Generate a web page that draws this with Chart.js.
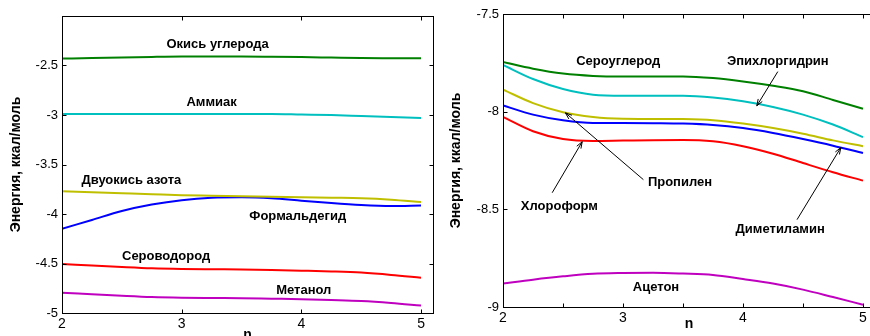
<!DOCTYPE html>
<html>
<head>
<meta charset="utf-8">
<script src="https://cdn.jsdelivr.net/npm/chart.js@4.4.0/dist/chart.umd.min.js"></script>
<style>
    html, body { margin: 0; padding: 0; background: #fff; width: 870px; height: 336px; overflow: hidden; }
    canvas { position: absolute; top: 0; }
    #leftChart { left: 0; }
    #rightChart { left: 440px; }
</style>
</head>
<body>
<canvas id="leftChart" width="440" height="336"></canvas>
<canvas id="rightChart" width="440" height="336"></canvas>
<script>
// n values shared by all curves
const n = [2, 2.25, 2.5, 2.75, 3, 3.25, 3.5, 3.75, 4, 4.25, 4.5, 4.75, 5];

// left panel
const okisUgleroda = [-2.43, -2.425, -2.418, -2.413, -2.41, -2.41, -2.41, -2.412, -2.415, -2.42, -2.425, -2.426, -2.426];
const ammiak = [-2.99, -2.99, -2.99, -2.99, -2.99, -2.99, -2.99, -2.99, -2.995, -3.0, -3.01, -3.02, -3.03];
const dvuokisAzota = [-3.77, -3.78, -3.79, -3.80, -3.81, -3.815, -3.82, -3.825, -3.83, -3.835, -3.84, -3.855, -3.88];
const formaldegid = [-4.15, -4.06, -3.97, -3.905, -3.86, -3.835, -3.83, -3.84, -3.865, -3.89, -3.91, -3.92, -3.915];
const serovodorod = [-4.505, -4.52, -4.535, -4.548, -4.555, -4.558, -4.56, -4.565, -4.572, -4.58, -4.592, -4.615, -4.645];
const metanol = [-4.795, -4.81, -4.825, -4.838, -4.845, -4.848, -4.85, -4.855, -4.86, -4.868, -4.878, -4.898, -4.925];

// right panel
const serouglerod = [-7.746, -7.78, -7.805, -7.817, -7.82, -7.82, -7.82, -7.828, -7.845, -7.867, -7.895, -7.94, -7.985];
const epihlorgidrin = [-7.761, -7.833, -7.884, -7.913, -7.918, -7.918, -7.918, -7.927, -7.947, -7.976, -8.015, -8.066, -8.13];
const propilen = [-7.887, -7.956, -8.003, -8.027, -8.036, -8.037, -8.038, -8.044, -8.061, -8.084, -8.113, -8.147, -8.177];
const dimetilamin = [-7.968, -8.015, -8.044, -8.058, -8.058, -8.059, -8.061, -8.068, -8.084, -8.109, -8.14, -8.174, -8.212];
const hloroform = [-8.027, -8.10, -8.14, -8.15, -8.148, -8.146, -8.145, -8.152, -8.177, -8.215, -8.263, -8.31, -8.353];
const aceton = [-8.88, -8.86, -8.843, -8.83, -8.826, -8.825, -8.829, -8.836, -8.857, -8.88, -8.911, -8.949, -8.988];

// tick values
const leftTicksX = [2, 3, 4, 5];
const rightTicksX = [2, 2.5, 3, 3.5, 4, 4.5, 5];
const leftTicksY = [-5, -4.5, -4, -3.5, -3, -2.5];
const rightTicksY = [-9, -8.5, -8, -7.5];

const FONT = '"Liberation Sans", Arial, sans-serif';

const leftLabels = [
    { text: 'Окись углерода', x: 3.30, y: -2.29 },
    { text: 'Аммиак', x: 3.25, y: -2.87 },
    { text: 'Двуокись азота', x: 2.58, y: -3.66 },
    { text: 'Формальдегид', x: 3.97, y: -4.02 },
    { text: 'Сероводород', x: 2.87, y: -4.43 },
    { text: 'Метанол', x: 4.02, y: -4.77 }
];
const rightLabels = [
    { text: 'Сероуглерод', x: 2.96, y: -7.744 },
    { text: 'Эпихлоргидрин', x: 4.29, y: -7.744 },
    { text: 'Пропилен', x: 3.475, y: -8.364 },
    { text: 'Хлороформ', x: 2.47, y: -8.487 },
    { text: 'Диметиламин', x: 4.31, y: -8.604 },
    { text: 'Ацетон', x: 3.275, y: -8.901 }
];
const rightArrows = [
    { x1: 4.29, y1: -7.795, x2: 4.115, y2: -7.97 },
    { x1: 3.17, y1: -8.348, x2: 2.52, y2: -8.006 },
    { x1: 2.41, y1: -8.415, x2: 2.66, y2: -8.154 },
    { x1: 4.45, y1: -8.553, x2: 4.815, y2: -8.184 }
];

function series(label, ys, color) {
    return {
        label: label,
        data: n.map((x, i) => ({ x: x, y: ys[i] })),
        borderColor: color,
        borderWidth: 2,
        pointRadius: 0,
        tension: 0.4,
        cubicInterpolationMode: 'monotone',
        fill: false
    };
}

// box, inward ticks, labels and arrows like in matlab
function framePlugin(labels, arrows) {
    return {
        id: 'frame',
        afterDraw(chart) {
            const ctx = chart.ctx;
            const a = chart.chartArea;
            const xs = chart.scales.x, ys = chart.scales.y;
            ctx.save();
            ctx.strokeStyle = '#000';
            ctx.lineWidth = 1;
            const l = Math.round(a.left) + 0.5, r = Math.round(a.right) + 0.5;
            const t = Math.round(a.top) + 0.5, b = Math.round(a.bottom) + 0.5;
            ctx.strokeRect(l, t, r - l, b - t);
            ctx.beginPath();
            xs.ticks.forEach(tk => {
                const px = Math.round(xs.getPixelForValue(tk.value)) + 0.5;
                ctx.moveTo(px, b); ctx.lineTo(px, b - 4);
                ctx.moveTo(px, t); ctx.lineTo(px, t + 4);
            });
            ys.ticks.forEach(tk => {
                const py = Math.round(ys.getPixelForValue(tk.value)) + 0.5;
                ctx.moveTo(l, py); ctx.lineTo(l + 4, py);
                ctx.moveTo(r, py); ctx.lineTo(r - 4, py);
            });
            ctx.stroke();

            ctx.fillStyle = '#000';
            ctx.font = 'bold 13px ' + FONT;
            ctx.textAlign = 'center';
            ctx.textBaseline = 'middle';
            labels.forEach(lb => {
                ctx.fillText(lb.text, xs.getPixelForValue(lb.x), ys.getPixelForValue(lb.y));
            });

            arrows.forEach(ar => {
                const x1 = xs.getPixelForValue(ar.x1), y1 = ys.getPixelForValue(ar.y1);
                const x2 = xs.getPixelForValue(ar.x2), y2 = ys.getPixelForValue(ar.y2);
                const ang = Math.atan2(y2 - y1, x2 - x1);
                ctx.beginPath();
                ctx.moveTo(x1, y1);
                ctx.lineTo(x2, y2);
                ctx.moveTo(x2 - 7 * Math.cos(ang - 0.35), y2 - 7 * Math.sin(ang - 0.35));
                ctx.lineTo(x2, y2);
                ctx.lineTo(x2 - 7 * Math.cos(ang + 0.35), y2 - 7 * Math.sin(ang + 0.35));
                ctx.stroke();
            });
            ctx.restore();
        }
    };
}

function makeOptions(xTicks, yMin, yMax, yTicks, yWidth, xHeight, pad, titlePadX) {
    return {
        responsive: false,
        animation: false,
        layout: { padding: pad },
        plugins: { legend: { display: false }, tooltip: { enabled: false } },
        scales: {
            x: {
                type: 'linear',
                bounds: 'data',
                min: 2,
                max: 5.1,
                grid: { display: false, drawTicks: false, tickLength: 0 },
                border: { display: false },
                afterBuildTicks: s => { s.ticks = xTicks.map(v => ({ value: v })); },
                ticks: {
                    padding: 3,
                    maxRotation: 0,
                    autoSkip: false,
                    color: '#000',
                    font: { family: FONT, size: 14 },
                    callback: v => Number.isInteger(v) ? String(v) : ''
                },
                title: {
                    display: true,
                    text: 'n',
                    color: '#000',
                    font: { family: FONT, size: 14, weight: 'bold', lineHeight: 1 },
                    padding: { top: 0, bottom: titlePadX }
                },
                afterFit: s => { s.height = xHeight; s.paddingLeft = 0; s.paddingRight = 0; }
            },
            y: {
                type: 'linear',
                bounds: 'data',
                min: yMin,
                max: yMax,
                grid: { display: false, drawTicks: false, tickLength: 0 },
                border: { display: false },
                afterBuildTicks: s => { s.ticks = yTicks.map(v => ({ value: v })); },
                ticks: {
                    padding: 4,
                    color: '#000',
                    font: { family: FONT, size: 13 },
                    callback: v => String(v)
                },
                title: {
                    display: true,
                    text: 'Энергия, ккал/моль',
                    color: '#000',
                    font: { family: FONT, size: 14, weight: 'bold', lineHeight: 1 },
                    padding: { top: 9, bottom: 0 }
                },
                afterFit: s => { s.width = yWidth; s.paddingTop = 0; s.paddingBottom = 0; }
            }
        }
    };
}

new Chart(document.getElementById('leftChart').getContext('2d'), {
    type: 'line',
    data: {
        datasets: [
            series('Окись углерода', okisUgleroda, '#008000'),
            series('Аммиак', ammiak, '#00BFBF'),
            series('Двуокись азота', dvuokisAzota, '#BFBF00'),
            series('Формальдегид', formaldegid, '#0000FF'),
            series('Сероводород', serovodorod, '#FF0000'),
            series('Метанол', metanol, '#BF00BF')
        ]
    },
    options: makeOptions(leftTicksX, -5, -2, leftTicksY, 62, 23, { left: 0, top: 16, right: 7, bottom: 0 }, -6),
    plugins: [framePlugin(leftLabels, [])]
});

new Chart(document.getElementById('rightChart').getContext('2d'), {
    type: 'line',
    data: {
        datasets: [
            series('Сероуглерод', serouglerod, '#008000'),
            series('Эпихлоргидрин', epihlorgidrin, '#00BFBF'),
            series('Пропилен', propilen, '#BFBF00'),
            series('Диметиламин', dimetilamin, '#0000FF'),
            series('Хлороформ', hloroform, '#FF0000'),
            series('Ацетон', aceton, '#BF00BF')
        ]
    },
    options: makeOptions(rightTicksX, -9, -7.5, rightTicksY, 63, 29, { left: 0, top: 14, right: 5, bottom: 0 }, 5),
    plugins: [framePlugin(rightLabels, rightArrows)]
});
</script>
</body>
</html>
